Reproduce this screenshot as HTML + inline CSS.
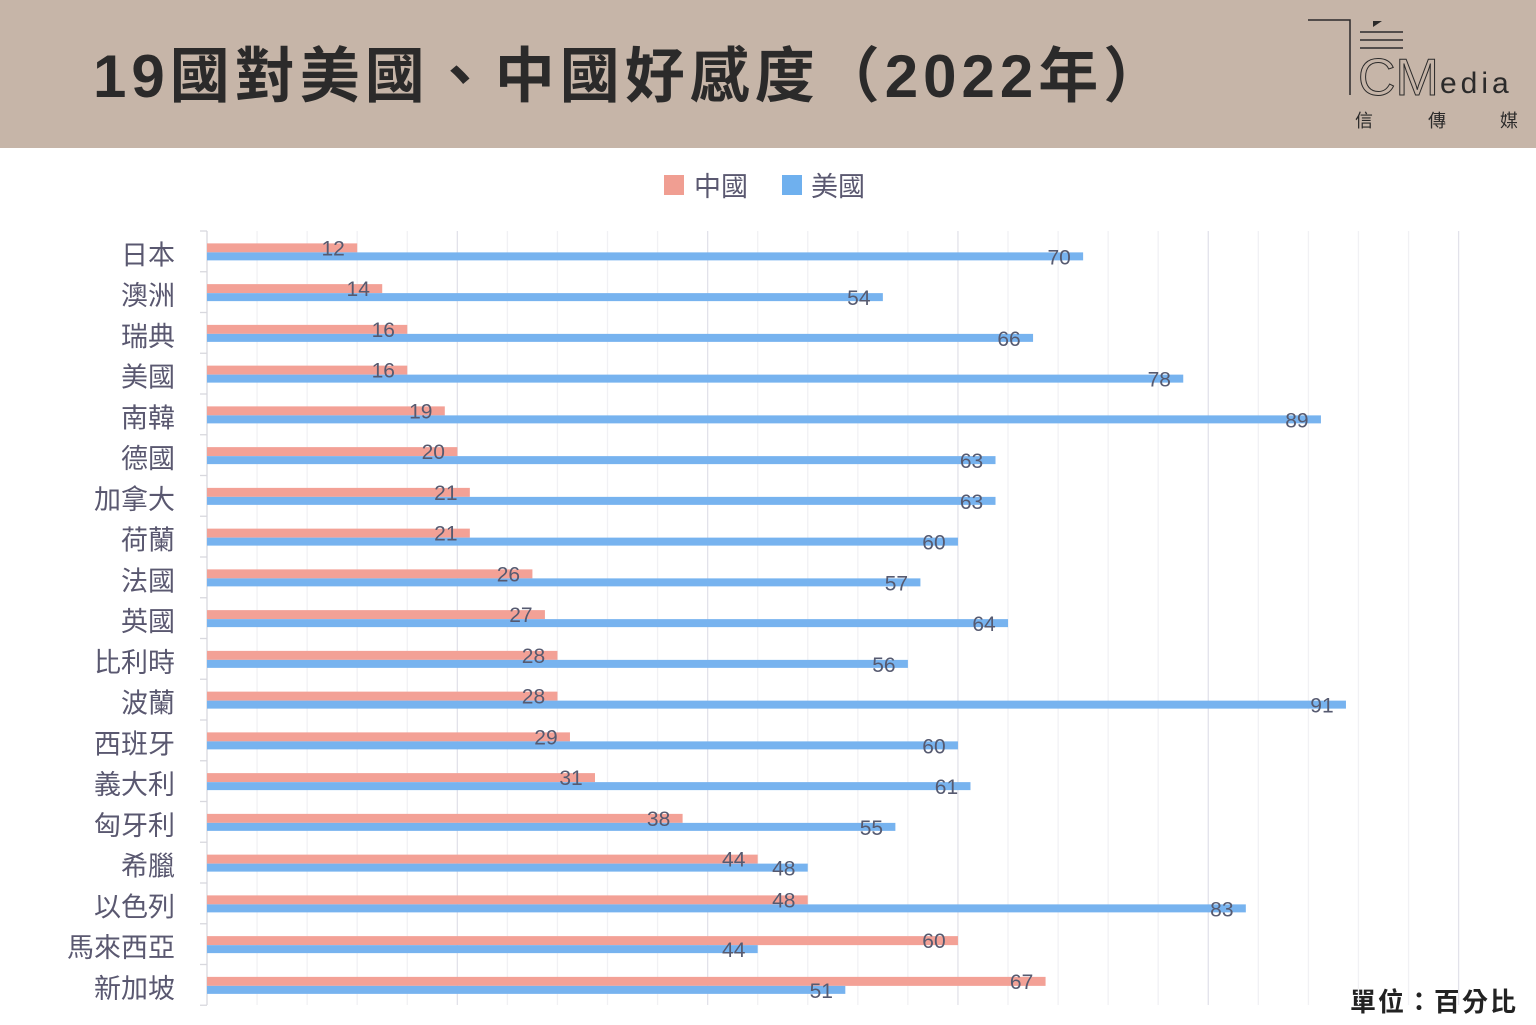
<!DOCTYPE html>
<html><head><meta charset="utf-8"><style>
body{margin:0;width:1536px;height:1025px;background:#fff;position:relative;overflow:hidden;font-family:"Liberation Sans","Noto Sans CJK TC",sans-serif}
.hdr{position:absolute;left:0;top:0;width:1536px;height:148px;background:#c6b5a8}
.title{position:absolute;left:93px;top:28px;font-size:60px;font-weight:bold;color:#2b2a2a;letter-spacing:5px;white-space:nowrap}
.a{position:absolute;white-space:nowrap}
</style></head><body>
<div class="hdr"></div>
<div class="title">19國對美國、中國好感度（2022年）</div>
<svg class="a" style="left:1300px;top:10px" width="236" height="130">
<polyline points="8,10 50,10 50,85" fill="none" stroke="#2b2a2a" stroke-width="1.5"/>
<path d="M73,11 L82,11 L73,17Z" fill="#2b2a2a"/>
<line x1="60" y1="22" x2="103" y2="22" stroke="#2b2a2a" stroke-width="1.5"/>
<line x1="60" y1="30" x2="103" y2="30" stroke="#2b2a2a" stroke-width="1.5"/>
<line x1="60" y1="38" x2="103" y2="38" stroke="#2b2a2a" stroke-width="1.5"/>
<text x="58" y="85" font-size="52" fill="none" stroke="#2b2a2a" stroke-width="1" font-family="Liberation Sans">CM</text>
<text x="140" y="83" font-size="30" fill="#2b2a2a" font-family="Liberation Sans" letter-spacing="4">edia</text>
<text x="55" y="117" font-size="18" fill="#2b2a2a">信</text>
<text x="128" y="117" font-size="18" fill="#2b2a2a">傳</text>
<text x="200" y="117" font-size="18" fill="#2b2a2a">媒</text>
</svg>
<div class="a" style="left:664px;top:175px;width:20px;height:20px;background:#f09e92"></div>
<div class="a" style="left:694px;top:165px;font-size:27px;color:#5a5870">中國</div>
<div class="a" style="left:782px;top:175px;width:20px;height:20px;background:#6fb0ee"></div>
<div class="a" style="left:811px;top:165px;font-size:27px;color:#5a5870">美國</div>
<div class="a" style="left:1350px;top:982px;font-size:26px;font-weight:bold;color:#222;letter-spacing:2px">單位：百分比</div>
<svg class="a" style="left:0;top:0" width="1536" height="1025" id="c"></svg>
<script>
var d=[["日本",12,70],["澳洲",14,54],["瑞典",16,66],["美國",16,78],["南韓",19,89],["德國",20,63],["加拿大",21,63],["荷蘭",21,60],["法國",26,57],["英國",27,64],["比利時",28,56],["波蘭",28,91],["西班牙",29,60],["義大利",31,61],["匈牙利",38,55],["希臘",44,48],["以色列",48,83],["馬來西亞",60,44],["新加坡",67,51]];
var s="",x0=207,u=12.516,T0=231,h=40.75;
for(var g=4;g<=100;g+=4){var x=x0+g*u;s+='<line x1="'+x+'" y1="231" x2="'+x+'" y2="1005" stroke="'+(g%20==0?'#e2e2ea':'#f1f1f4')+'" stroke-width="1.3"/>';}
s+='<line x1="207" y1="231" x2="207" y2="1005" stroke="#d8d8de" stroke-width="1.3"/>';
for(var i=0;i<=19;i++){var y=T0+i*h;s+='<line x1="200" y1="'+y+'" x2="207" y2="'+y+'" stroke="#d8d8de" stroke-width="1.3"/>';}
d.forEach(function(r,i){var y=T0+i*h;var c=y+h/2+2;
s+='<text x="175" y="'+(c+11)+'" text-anchor="end" font-size="27" fill="#5a5870" font-family="Liberation Sans,Noto Sans CJK TC,sans-serif">'+r[0]+'</text>';
var e1=x0+r[1]*u,e2=x0+r[2]*u;
s+='<rect x="207" y="'+(c-10)+'" width="'+(e1-207)+'" height="9" fill="#f3a196"/>';
s+='<rect x="207" y="'+(c-1)+'" width="'+(e2-207)+'" height="8" fill="#77b3ef"/>';
s+='<text x="'+(e1-24)+'" y="'+(c+2)+'" text-anchor="middle" font-size="21" fill="#565a70" font-family="Liberation Sans,sans-serif">'+r[1]+'</text>';
s+='<text x="'+(e2-24)+'" y="'+(c+11)+'" text-anchor="middle" font-size="21" fill="#565a70" font-family="Liberation Sans,sans-serif">'+r[2]+'</text>';});
document.getElementById("c").innerHTML=s;
</script>
</body></html>
